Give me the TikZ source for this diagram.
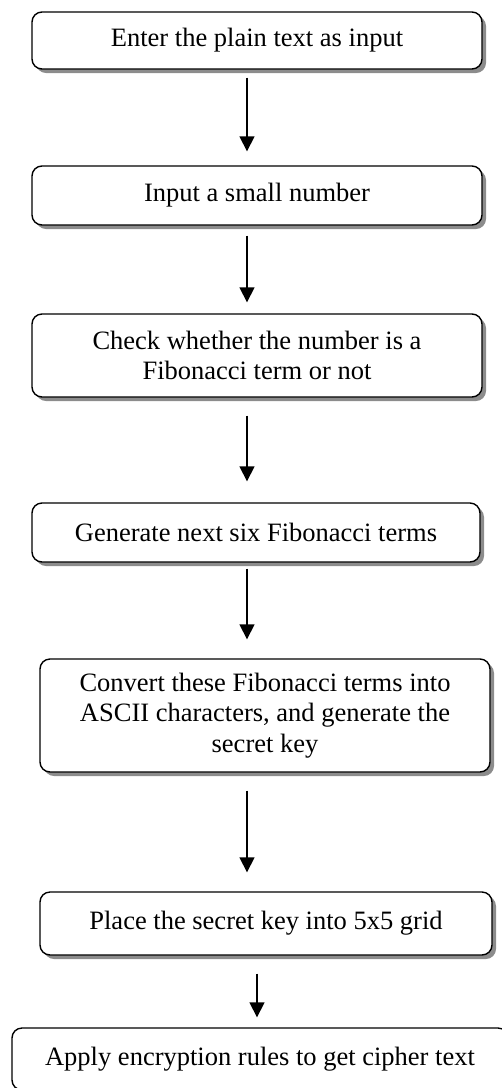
\documentclass[tikz,border=0pt]{standalone}
\usepackage{fontspec}
\setmainfont{Liberation Serif}
\usetikzlibrary{arrows.meta,shadows,calc}
\begin{document}
\begin{tikzpicture}[x=1pt,y=-1pt,
  stepbox/.style={draw=black, line width=1.4pt, rounded corners=10pt, fill=white,
    inner sep=0pt, align=center,
    font=\fontsize{26.5}{30.5}\selectfont,
    drop shadow={shadow xshift=4pt, shadow yshift=-4pt, fill=black!45, opacity=1}},
  arr/.style={line width=1.6pt, -{Triangle[width=15pt,length=15pt]}}]
\useasboundingbox (0,0) rectangle (502,1088);
\begin{scope}
\clip (0,0) rectangle (502,1088);
\node[stepbox, minimum width=450pt, minimum height=57pt] (b1) at (257,40.5) {Enter the plain text as input};
\node[stepbox, minimum width=450pt, minimum height=59pt] (b2) at (257,195.5) {Input a small number};
\node[stepbox, minimum width=450pt, minimum height=83pt] (b3) at (257,355.5) {Check whether the number is a\\Fibonacci term or not};
\node[stepbox, minimum width=448pt, minimum height=59pt] (b4) at (256,532.5) {Generate next six Fibonacci terms};
\node[stepbox, minimum width=450pt, minimum height=113pt] (b5) at (265,715.5) {Convert these Fibonacci terms into\\ASCII characters, and generate the\\secret key};
\node[stepbox, minimum width=452pt, minimum height=63pt] (b6) at (266,923.5) {Place the secret key into 5x5 grid};
\node[stepbox, minimum width=496pt, minimum height=62pt] (b7) at (260,1059) {Apply encryption rules to get cipher text};
\end{scope}
\coordinate (ax) at (247,0);
\coordinate (bx) at (257,0);
\draw[arr, shorten <=8pt, shorten >=14pt] (b1.south -| ax) -- (b2.north -| ax);
\draw[arr, shorten <=10pt, shorten >=11pt] (b2.south -| ax) -- (b3.north -| ax);
\draw[arr, shorten <=18pt, shorten >=21pt] (b3.south -| ax) -- (b4.north -| ax);
\draw[arr, shorten <=6pt, shorten >=19pt] (b4.south -| ax) -- (b5.north -| ax);
\draw[arr, shorten <=18pt, shorten >=19pt] (b5.south -| ax) -- (b6.north -| ax);
\draw[arr, shorten <=18pt, shorten >=10pt] (b6.south -| bx) -- (b7.north -| bx);
\end{tikzpicture}
\end{document}
